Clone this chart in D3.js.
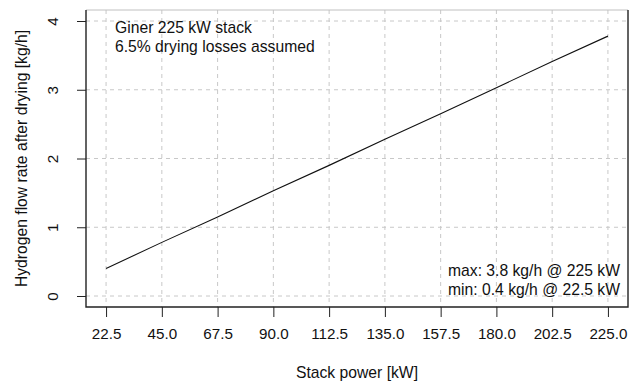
<!DOCTYPE html>
<html>
<head>
<meta charset="utf-8">
<script src="https://cdn.jsdelivr.net/npm/d3@7"></script>
<style>
  body { margin: 0; background: #fff; }
  text { font-family: "Liberation Sans", Arial, Helvetica, sans-serif; fill: #111; }
</style>
</head>
<body>
<div id="chart"></div>
<script>
// stack power [kW] and hydrogen output after drying [kg/h]
var power = [22.5, 45, 67.5, 90, 112.5, 135, 157.5, 180, 202.5, 225];
var flow = [0.40, 0.78, 1.15, 1.53, 1.90, 2.28, 2.65, 3.03, 3.41, 3.78];
var xTicks = [22.5, 45, 67.5, 90, 112.5, 135, 157.5, 180, 202.5, 225];
var yTicks = [0, 1, 2, 3, 4];
var noteTop = ["Giner 225 kW stack", "6.5% drying losses assumed"];
var noteBottom = ["max: 3.8 kg/h @ 225 kW", "min: 0.4 kg/h @ 22.5 kW"];

var svgWidth = 641, svgHeight = 382;
var margin = { top: 10, right: 13, bottom: 75, left: 86 };
var width = svgWidth - margin.left - margin.right;
var height = svgHeight - margin.top - margin.bottom;
var fs = "15.7px";

var svg = d3.select("#chart").append("svg")
    .attr("width", svgWidth)
    .attr("height", svgHeight);

var chartGroup = svg.append("g")
    .attr("transform", `translate(${margin.left}, ${margin.top})`);

// R-style 4% padding on both axes
var xPad = (225 - 22.5) * 0.04;
var x = d3.scaleLinear()
    .domain([22.5 - xPad, 225 + xPad])
    .range([0, width]);

var y = d3.scaleLinear()
    .domain([-0.16, 4.16])
    .range([height, 0]);

// grid
chartGroup.selectAll(".vgrid")
    .data(xTicks)
    .enter()
    .append("line")
    .attr("x1", d => x(d)).attr("x2", d => x(d))
    .attr("y1", 0).attr("y2", height)
    .attr("stroke", "#c8c8c8")
    .attr("stroke-dasharray", "4,4");

chartGroup.selectAll(".hgrid")
    .data(yTicks)
    .enter()
    .append("line")
    .attr("y1", d => y(d)).attr("y2", d => y(d))
    .attr("x1", 0).attr("x2", width)
    .attr("stroke", "#c8c8c8")
    .attr("stroke-dasharray", "4,4");

// data line
var line = d3.line()
    .x((d, i) => x(power[i]))
    .y(d => y(d));

chartGroup.append("path")
    .datum(flow)
    .attr("d", line)
    .attr("fill", "none")
    .attr("stroke", "#111")
    .attr("stroke-width", 1.1);

// axes
var bottomAxis = d3.axisBottom(x)
    .tickValues(xTicks)
    .tickFormat(d3.format(".1f"))
    .tickSizeInner(10)
    .tickSizeOuter(0)
    .tickPadding(8);

var leftAxis = d3.axisLeft(y)
    .tickValues(yTicks)
    .tickFormat(d3.format("d"))
    .tickSizeInner(9)
    .tickSizeOuter(0);

var xAxis = chartGroup.append("g")
    .attr("transform", `translate(0, ${height})`)
    .call(bottomAxis);
xAxis.select(".domain").remove();
xAxis.selectAll("line").attr("stroke", "#222");
xAxis.selectAll("text")
    .attr("font-size", "15.2px")
    .attr("dy", "0.95em")
    .attr("fill", "#111");

var yAxis = chartGroup.append("g")
    .call(leftAxis);
yAxis.select(".domain").remove();
yAxis.selectAll("line").attr("stroke", "#222");
yAxis.selectAll("text")
    .attr("font-size", "15.2px")
    .attr("x", 0).attr("dy", 0)
    .attr("text-anchor", "middle")
    .attr("transform", "translate(-28,0) rotate(-90)")
    .attr("fill", "#111");

// box: R leaves a faint top edge here
chartGroup.append("line")
    .attr("x1", 0).attr("x2", width).attr("y1", 0).attr("y2", 0)
    .attr("stroke", "#c0c0c0");
chartGroup.append("path")
    .attr("d", `M${width},0V${height}H0V0`)
    .attr("fill", "none")
    .attr("stroke", "#222")
    .attr("stroke-width", 1.4);

// notes
chartGroup.selectAll(".noteTop")
    .data(noteTop)
    .enter()
    .append("text")
    .attr("x", 29)
    .attr("y", (d, i) => 23 + i * 19)
    .attr("font-size", fs)
    .text(d => d);

chartGroup.selectAll(".noteBottom")
    .data(noteBottom)
    .enter()
    .append("text")
    .attr("x", width - 8)
    .attr("y", (d, i) => 266 + i * 19)
    .attr("text-anchor", "end")
    .attr("font-size", fs)
    .text(d => d);

// axis titles
chartGroup.append("text")
    .attr("x", width / 2)
    .attr("y", height + 71)
    .attr("text-anchor", "middle")
    .attr("font-size", fs)
    .text("Stack power [kW]");

chartGroup.append("text")
    .attr("transform", `translate(-59, ${height / 2}) rotate(-90)`)
    .attr("text-anchor", "middle")
    .attr("font-size", fs)
    .text("Hydrogen flow rate after drying [kg/h]");
</script>
</body>
</html>
